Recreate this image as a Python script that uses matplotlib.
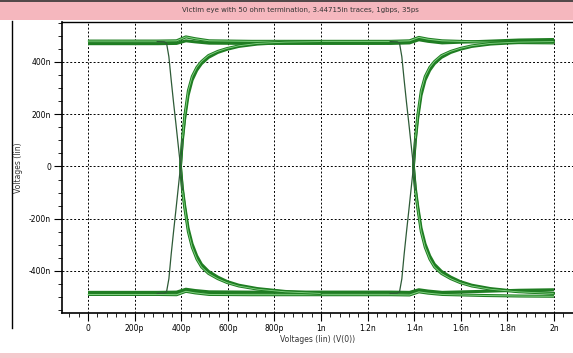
import numpy as np
import matplotlib
matplotlib.use("Agg")
import matplotlib.pyplot as plt
from matplotlib.ticker import AutoMinorLocator
from matplotlib.patches import Rectangle

plt.rcParams['font.family'] = ['Liberation Sans Narrow', 'DejaVu Sans']

# axis ticks (x in ns, y in nV)
x_ticks = [0, 0.2, 0.4, 0.6, 0.8, 1.0, 1.2, 1.4, 1.6, 1.8, 2.0]
x_labels = ["0", "200p", "400p", "600p", "800p", "1n", "1.2n", "1.4n", "1.6n", "1.8n", "2n"]
y_ticks = [-400, -200, 0, 200, 400]
y_labels = ["-400n", "-200n", "0", "200n", "400n"]

# eye crossings
crossings = [0.397, 1.397]

# steady levels
t_lvl = [0, 0.30, 0.38, 0.42, 0.46, 0.52, 0.70, 1.0, 1.30, 1.38, 1.42, 1.46, 1.52, 1.70, 1.85, 2.0]
hi_a = [480, 480, 481, 496, 489, 481, 479, 479, 479, 481, 494, 487, 481, 476, 474, 473]
hi_b = [470, 470, 471, 481, 477, 472, 471, 471, 471, 473, 485, 479, 473, 479, 484, 486]
lo_a = [-490, -490, -491, -478, -484, -490, -491, -491, -491, -492, -480, -485, -490, -494, -496, -497]
lo_b = [-482, -482, -481, -470, -475, -480, -481, -481, -481, -482, -472, -477, -482, -478, -474, -472]

# transition shapes, time relative to crossing
dt_edge = [-0.10, -0.07, -0.06, -0.05, -0.04, -0.03, -0.02, -0.01, 0.0, 0.008, 0.018,
           0.033, 0.05, 0.07, 0.09, 0.12, 0.16, 0.20, 0.25, 0.33, 0.45, 0.60]
v_rise = [-486, -485, -480, -430, -335, -250, -168, -84, 0, 105, 195,
          290, 345, 380, 402, 425, 441, 452, 462, 471, 476, 478]
v_rise2 = [-486, -485, -480, -432, -338, -252, -170, -86, 0, 95, 180,
           272, 330, 368, 393, 417, 436, 448, 459, 468, 474, 477]
v_fall = [478, 477, 472, 420, 330, 245, 165, 82, 0, -90, -160,
          -250, -310, -355, -385, -410, -430, -445, -458, -470, -480, -486]
v_fall2 = [478, 477, 472, 418, 328, 243, 163, 80, 0, -80, -148,
           -236, -296, -342, -374, -401, -423, -440, -454, -467, -478, -485]

dark = '#1f7d22'
light = '#86d486'
edge_col = '#2d5a36'

fig = plt.figure(figsize=(5.73, 3.58), dpi=100)
fig.patches.append(Rectangle((0, 1 - 20 / 358), 1, 20 / 358, transform=fig.transFigure,
                             facecolor='#f5b7be', edgecolor='none', zorder=0))
fig.patches.append(Rectangle((0, 0), 1, 5 / 358, transform=fig.transFigure,
                             facecolor='#f5c9cd', edgecolor='none', zorder=0))
fig.lines.append(plt.Line2D([12 / 573, 12 / 573], [30 / 358, 1 - 21 / 358],
                            transform=fig.transFigure, color='k', lw=1))
fig.lines.append(plt.Line2D([0, 1], [1 - 1 / 358, 1 - 1 / 358],
                            transform=fig.transFigure, color='#333333', lw=1.2))
fig.text(0.525, 1 - 10 / 358,
         "Victim eye with 50 ohm termination, 3.44715in traces, 1gbps, 35ps",
         ha='center', va='center', fontsize=5, color='#333333')

ax = fig.add_axes([62 / 573, 45 / 358, 512 / 573, 291 / 358])

# flat levels
for lv in [hi_a, hi_b, lo_a, lo_b]:
    ax.plot(t_lvl, lv, color=dark, lw=2.2, solid_capstyle='butt')
for lv in [hi_a, lo_a]:
    ax.plot(t_lvl, lv, color=light, lw=0.7)

# transitions at each crossing
for tc in crossings:
    tt = [tc + d for d in dt_edge]
    for v in [v_rise, v_rise2, v_fall, v_fall2]:
        ax.plot(tt[8:], v[8:], color=dark, lw=2.0)
    ax.plot(tt[8:], v_rise[8:], color=light, lw=0.6)
    ax.plot(tt[8:], v_fall[8:], color=light, lw=0.6)
    ax.plot(tt[:10], v_rise[:10], color=edge_col, lw=0.9)
    ax.plot(tt[:10], v_fall[:10], color=edge_col, lw=0.9)

ax.set_xlim(-0.1118, 2.086)
ax.set_ylim(-561, 553)
ax.set_xticks(x_ticks)
ax.set_xticklabels(x_labels)
ax.set_yticks(y_ticks)
ax.set_yticklabels(y_labels)
ax.xaxis.set_minor_locator(AutoMinorLocator(5))
ax.yaxis.set_minor_locator(AutoMinorLocator(4))
ax.tick_params(which='major', direction='out', length=6, width=0.8, labelsize=5.5, pad=2)
ax.tick_params(which='minor', direction='out', length=3, width=0.6)
ax.grid(True, which='major', color='k', linestyle=(0, (2, 2)), linewidth=0.7)
ax.set_axisbelow(True)
ax.spines['right'].set_visible(False)
ax.spines['left'].set_linewidth(1.2)
ax.spines['bottom'].set_linewidth(1.2)
ax.spines['top'].set_linewidth(1.0)
ax.set_xlabel("Voltages (lin) (V(0))", fontsize=5.5, labelpad=1, color='#333333')
ax.set_ylabel("Voltages (lin)", fontsize=5.5, labelpad=4, color='#333333')

fig.savefig("out.png", dpi=100)
